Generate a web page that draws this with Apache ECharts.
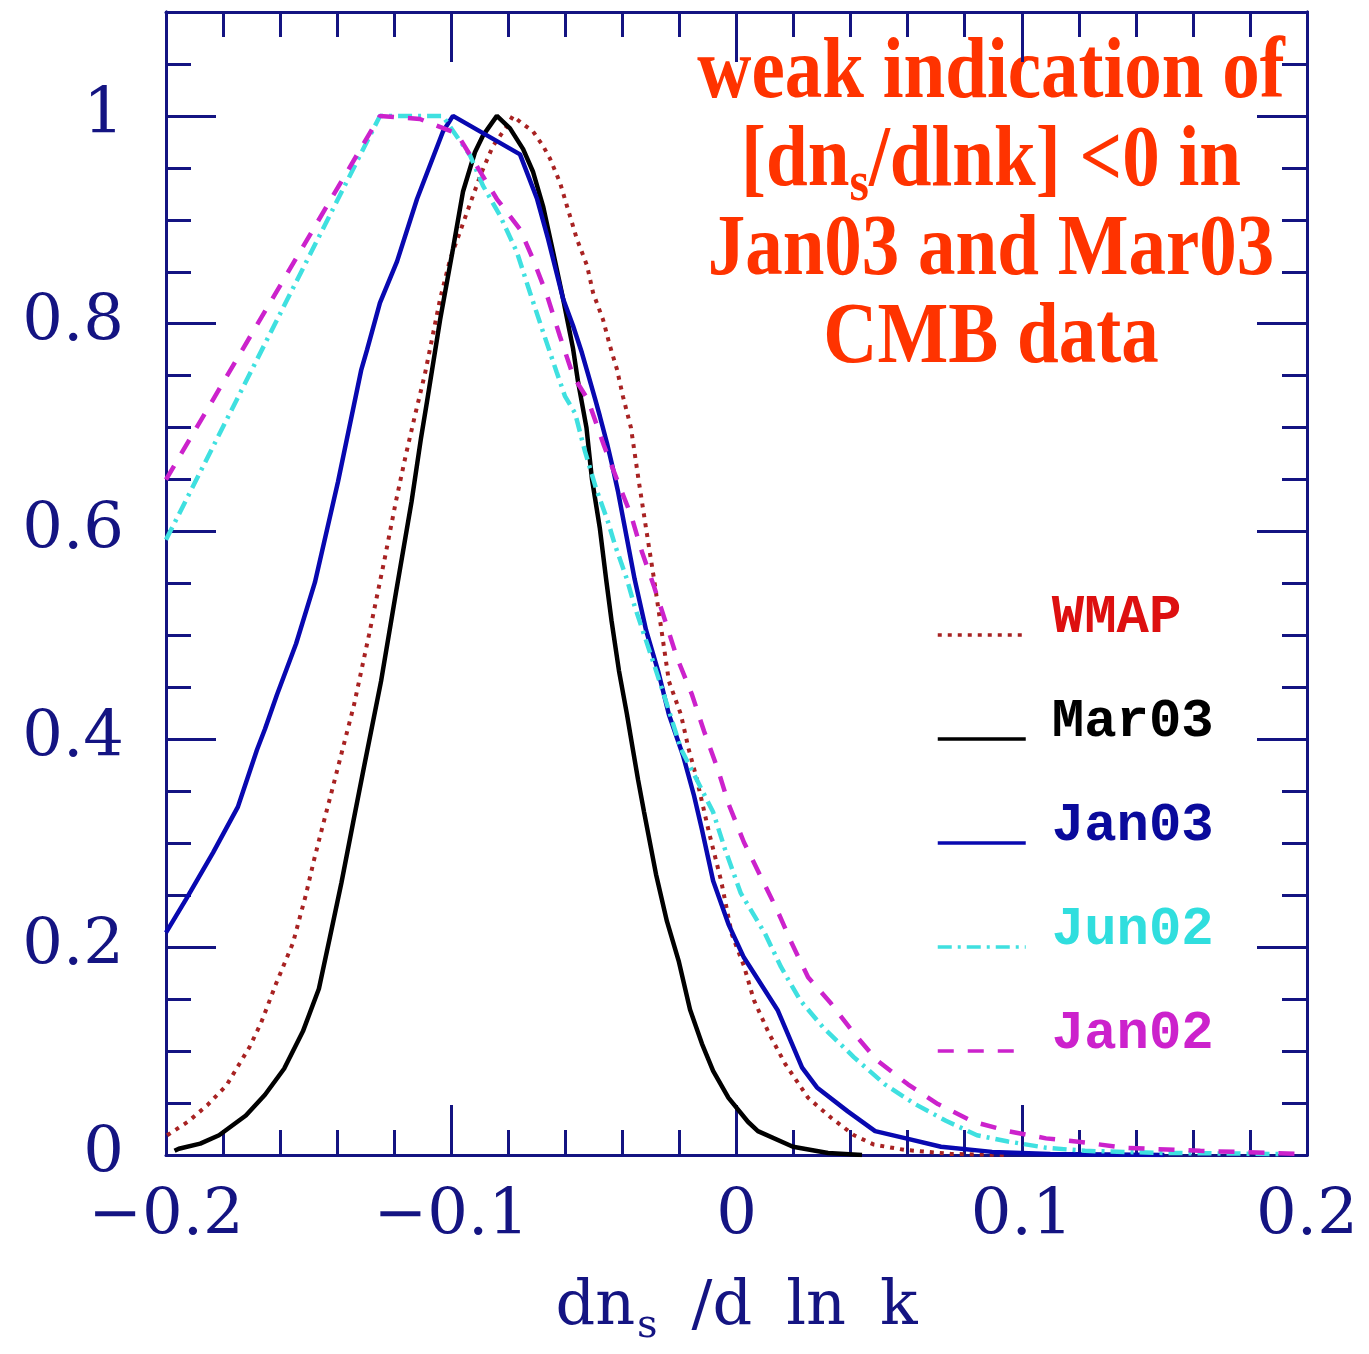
<!DOCTYPE html>
<html>
<head>
<meta charset="utf-8">
<title>dn_s/dlnk likelihood</title>
<script src="https://cdn.jsdelivr.net/npm/echarts@6/dist/echarts.min.js"></script>
<style>
  html, body { margin: 0; padding: 0; background: #fff; }
  #chart { width: 1369px; height: 1354px; }
</style>
</head>
<body>
<div id="chart"></div>
<script>
// values: [dn_s/dlnk, relative likelihood]
const seriesNames = ['WMAP', 'Mar03', 'Jan03', 'Jun02', 'Jan02']

const wmap = [
  [-0.1996, 0.019], [-0.1923, 0.032], [-0.1855, 0.048], [-0.1788, 0.067], [-0.1707, 0.104],
  [-0.1667, 0.127], [-0.1614, 0.165], [-0.1555, 0.204], [-0.151, 0.25], [-0.1481, 0.284],
  [-0.1457, 0.31], [-0.1418, 0.351], [-0.1341, 0.433], [-0.1288, 0.501], [-0.1234, 0.573],
  [-0.1194, 0.629], [-0.1159, 0.674], [-0.1127, 0.712], [-0.1092, 0.752], [-0.1039, 0.824],
  [-0.1004, 0.862], [-0.0945, 0.907], [-0.0899, 0.942], [-0.0854, 0.971], [-0.0805, 0.99],
  [-0.0784, 1.0], [-0.0748, 0.992], [-0.0713, 0.985], [-0.0678, 0.971], [-0.0654, 0.959],
  [-0.0619, 0.936], [-0.0594, 0.913], [-0.0559, 0.881], [-0.0524, 0.856], [-0.0503, 0.83],
  [-0.0468, 0.804], [-0.0443, 0.778], [-0.0419, 0.756], [-0.0398, 0.73], [-0.037, 0.70],
  [-0.0344, 0.651], [-0.0317, 0.603], [-0.0289, 0.554], [-0.0263, 0.505], [-0.0237, 0.456],
  [-0.0195, 0.424], [-0.0168, 0.391], [-0.0142, 0.365], [-0.0121, 0.34], [-0.0096, 0.31],
  [-0.0054, 0.264], [-0.0016, 0.212], [0.0026, 0.182], [0.0061, 0.149], [0.0114, 0.117],
  [0.017, 0.088], [0.0251, 0.055], [0.0331, 0.036], [0.0412, 0.019], [0.0482, 0.01],
  [0.0587, 0.005], [0.0752, 0.001], [0.095, 0.0]
]

const mar03 = [
  [-0.197, 0.004], [-0.1955, 0.006], [-0.188, 0.011], [-0.1814, 0.019], [-0.172, 0.038],
  [-0.1653, 0.058], [-0.1586, 0.083], [-0.152, 0.119], [-0.1464, 0.16], [-0.1425, 0.21],
  [-0.1385, 0.262], [-0.1344, 0.32], [-0.1304, 0.376], [-0.1246, 0.456], [-0.1194, 0.541],
  [-0.1139, 0.629], [-0.1106, 0.69], [-0.1085, 0.725], [-0.1039, 0.804], [-0.0994, 0.872],
  [-0.0959, 0.927], [-0.0917, 0.965], [-0.0889, 0.981], [-0.084, 1.0], [-0.0794, 0.988],
  [-0.0748, 0.968], [-0.0713, 0.946], [-0.0678, 0.913], [-0.0643, 0.869], [-0.0608, 0.824],
  [-0.0573, 0.776], [-0.0556, 0.745], [-0.0526, 0.70], [-0.0507, 0.651], [-0.0479, 0.603],
  [-0.0457, 0.554], [-0.0438, 0.514], [-0.0412, 0.466], [-0.0384, 0.424], [-0.0363, 0.39],
  [-0.0345, 0.361], [-0.0324, 0.33], [-0.0282, 0.27], [-0.0244, 0.225], [-0.0202, 0.186],
  [-0.0163, 0.14], [-0.0121, 0.107], [-0.0082, 0.081], [-0.0028, 0.055], [0.004, 0.032],
  [0.0075, 0.023], [0.0198, 0.008], [0.0321, 0.002], [0.044, 0.0]
]

const jan03 = [
  [-0.2, 0.214], [-0.193, 0.246], [-0.1835, 0.291], [-0.1748, 0.335], [-0.172, 0.358],
  [-0.1681, 0.39], [-0.1653, 0.41], [-0.1611, 0.443], [-0.1544, 0.492], [-0.1478, 0.551],
  [-0.1397, 0.648], [-0.1316, 0.755], [-0.1295, 0.775], [-0.125, 0.82], [-0.119, 0.86],
  [-0.112, 0.92], [-0.1029, 0.985], [-0.0994, 1.0], [-0.0759, 0.963], [-0.0699, 0.92],
  [-0.0661, 0.882], [-0.0608, 0.824], [-0.0573, 0.798], [-0.0542, 0.772], [-0.0521, 0.752],
  [-0.0496, 0.728], [-0.0479, 0.711], [-0.0454, 0.685], [-0.0436, 0.664], [-0.0415, 0.638],
  [-0.0357, 0.554], [-0.0317, 0.505], [-0.0275, 0.466], [-0.0237, 0.424], [-0.0188, 0.385],
  [-0.0149, 0.346], [-0.0121, 0.313], [-0.0082, 0.264], [-0.0028, 0.222], [0.0026, 0.19],
  [0.0145, 0.139], [0.023, 0.084], [0.0282, 0.065], [0.039, 0.042], [0.0486, 0.023],
  [0.0594, 0.016], [0.0717, 0.008], [0.0896, 0.003], [0.11, 0.001], [0.15, 0.0]
]

const jun02 = [
  [-0.2, 0.592], [-0.125, 1.0], [-0.103, 1.0], [-0.1015, 0.994], [-0.0934, 0.962],
  [-0.0889, 0.933], [-0.0829, 0.904], [-0.077, 0.869], [-0.0724, 0.83], [-0.0678, 0.792],
  [-0.063, 0.753], [-0.0601, 0.73], [-0.0566, 0.714], [-0.0532, 0.678], [-0.0493, 0.642],
  [-0.045, 0.609], [-0.0426, 0.587], [-0.0384, 0.554], [-0.0357, 0.528], [-0.0317, 0.495],
  [-0.0289, 0.472], [-0.0251, 0.44], [-0.0195, 0.391], [-0.0152, 0.368], [-0.0082, 0.33],
  [-0.004, 0.294], [0.0015, 0.252], [0.01, 0.213], [0.0156, 0.181], [0.0223, 0.149],
  [0.0303, 0.123], [0.0412, 0.094], [0.052, 0.068], [0.0626, 0.049], [0.0734, 0.033],
  [0.0843, 0.019], [0.0952, 0.013], [0.1085, 0.007], [0.1222, 0.004], [0.1492, 0.002],
  [0.19, 0.001]
]

const jan02 = [
  [-0.2, 0.65], [-0.125, 1.0], [-0.111, 0.997], [-0.098, 0.983], [-0.084, 0.92],
  [-0.0759, 0.891], [-0.0713, 0.862], [-0.0664, 0.827], [-0.0619, 0.788], [-0.0573, 0.75],
  [-0.0521, 0.727], [-0.0465, 0.683], [-0.0412, 0.645], [-0.037, 0.616], [-0.0331, 0.58],
  [-0.0289, 0.547], [-0.0251, 0.515], [-0.0209, 0.479], [-0.0156, 0.443], [-0.0114, 0.408],
  [-0.0064, 0.37], [-0.0028, 0.338], [0.0026, 0.301], [0.0142, 0.236], [0.0195, 0.203],
  [0.0251, 0.171], [0.0331, 0.146], [0.0412, 0.117], [0.0493, 0.091], [0.0601, 0.068],
  [0.0706, 0.049], [0.083, 0.032], [0.0952, 0.023], [0.1085, 0.016], [0.1222, 0.012],
  [0.1356, 0.007], [0.1626, 0.004], [0.187, 0.002], [0.1976, 0.001]
]

const navy = '#141482'
const lineColors = ['#a82222', '#000000', '#0808b0', '#3fe0e0', '#cc22cc']
const textColors = ['#dd1010', '#000000', '#0a0a9c', '#30dede', '#cc22cc']
const lineTypes = [[4, 6], 'solid', 'solid', [14, 6, 3, 6], [16, 14]]
const curves = [wmap, mar03, jan03, jun02, jan02]

const chart = echarts.init(document.getElementById('chart'))

const tickLine = { color: navy, width: 3 }
const serif = { fontFamily: 'DejaVu Serif', color: navy }

function xAxisOf(position, showLabel) {
  return {
    type: 'value',
    position: position,
    min: -0.2,
    max: 0.2,
    interval: 0.1,
    axisLine: { show: true, onZero: false, lineStyle: { color: navy, width: 3 } },
    axisTick: { show: true, inside: true, length: 50, lineStyle: tickLine },
    minorTick: { show: true, splitNumber: 5, length: 25, lineStyle: tickLine },
    splitLine: { show: false },
    axisLabel: {
      show: showLabel,
      margin: 30,
      color: navy,
      fontFamily: 'DejaVu Serif',
      fontSize: 64,
      formatter: v => (v < 0 ? '\u2212' + Math.abs(v) : String(v))
    }
  }
}

function yAxisOf(position, major, showLabel) {
  return {
    type: 'value',
    position: position,
    min: 0,
    max: 1.1,
    interval: major ? 0.2 : 0.05,
    axisLine: { show: true, onZero: false, lineStyle: { color: navy, width: 3 } },
    axisTick: { show: true, inside: true, length: major ? 50 : 25, lineStyle: tickLine },
    splitLine: { show: false },
    axisLabel: {
      show: showLabel,
      margin: 42,
      color: navy,
      fontFamily: 'DejaVu Serif',
      fontSize: 64,
      showMaxLabel: false,
      formatter: v => (v > 1.05 ? '' : String(v))
    }
  }
}

const xBottom = xAxisOf('bottom', true)
xBottom.name = '{a|dn}{s|s}{g|/d}{g|ln}{g|k}'
xBottom.nameLocation = 'middle'
xBottom.nameGap = 122
xBottom.nameTextStyle = {
  color: navy,
  fontFamily: 'DejaVu Serif',
  fontSize: 62,
  lineHeight: 62,
  rich: {
    a: Object.assign({ fontSize: 62, lineHeight: 62 }, serif),
    s: Object.assign({ fontSize: 40, lineHeight: 24, padding: [38, 0, 0, 2] }, serif),
    g: Object.assign({ fontSize: 62, lineHeight: 62, padding: [0, 0, 0, 34] }, serif)
  }
}

const option = {
  animation: false,
  backgroundColor: '#ffffff',
  grid: { left: 166, right: 62, top: 12, bottom: 199, containLabel: false },
  xAxis: [xBottom, xAxisOf('top', false)],
  yAxis: [
    yAxisOf('left', true, true),
    yAxisOf('left', false, false),
    yAxisOf('right', true, false),
    yAxisOf('right', false, false)
  ],
  legend: {
    orient: 'vertical',
    left: 936,
    top: 591,
    padding: 0,
    itemWidth: 88,
    itemHeight: 14,
    itemGap: 16,
    itemStyle: { opacity: 0 },
    lineStyle: { width: 3.5 },
    data: seriesNames.map((n, i) => ({ name: n, textStyle: { color: textColors[i] } })),
    formatter: name => '{t|' + name + '}',
    textStyle: {
      fontFamily: 'Liberation Mono',
      fontWeight: 'bold',
      fontSize: 54,
      rich: {
        t: {
          fontFamily: 'Liberation Mono',
          fontWeight: 'bold',
          fontSize: 54,
          lineHeight: 56,
          padding: [0, 0, 34, 21]
        }
      }
    }
  },
  graphic: [
    {
      type: 'text',
      x: 991,
      y: 30,
      scaleY: 1.15,
      style: {
        text: 'weak indication of\n[dn{s|s}/dlnk] <0 in\nJan03 and Mar03\nCMB data',
        fill: '#ff3300',
        fontFamily: 'Liberation Serif',
        fontWeight: 'bold',
        fontSize: 75,
        lineHeight: 77,
        align: 'center',
        verticalAlign: 'top',
        rich: {
          s: {
            fill: '#ff3300',
            fontFamily: 'Liberation Serif',
            fontWeight: 'bold',
            fontSize: 50,
            lineHeight: 36,
            padding: [38, 0, 0, 0]
          }
        }
      }
    }
  ],
  series: seriesNames.map((n, i) => ({
    name: n,
    type: 'line',
    xAxisIndex: 0,
    yAxisIndex: 0,
    data: curves[i],
    symbol: 'none',
    smooth: false,
    itemStyle: { color: lineColors[i] },
    lineStyle: { color: lineColors[i], width: i === 0 ? 4 : 4.5, type: lineTypes[i] }
  }))
}

chart.setOption(option)
</script>
</body>
</html>
